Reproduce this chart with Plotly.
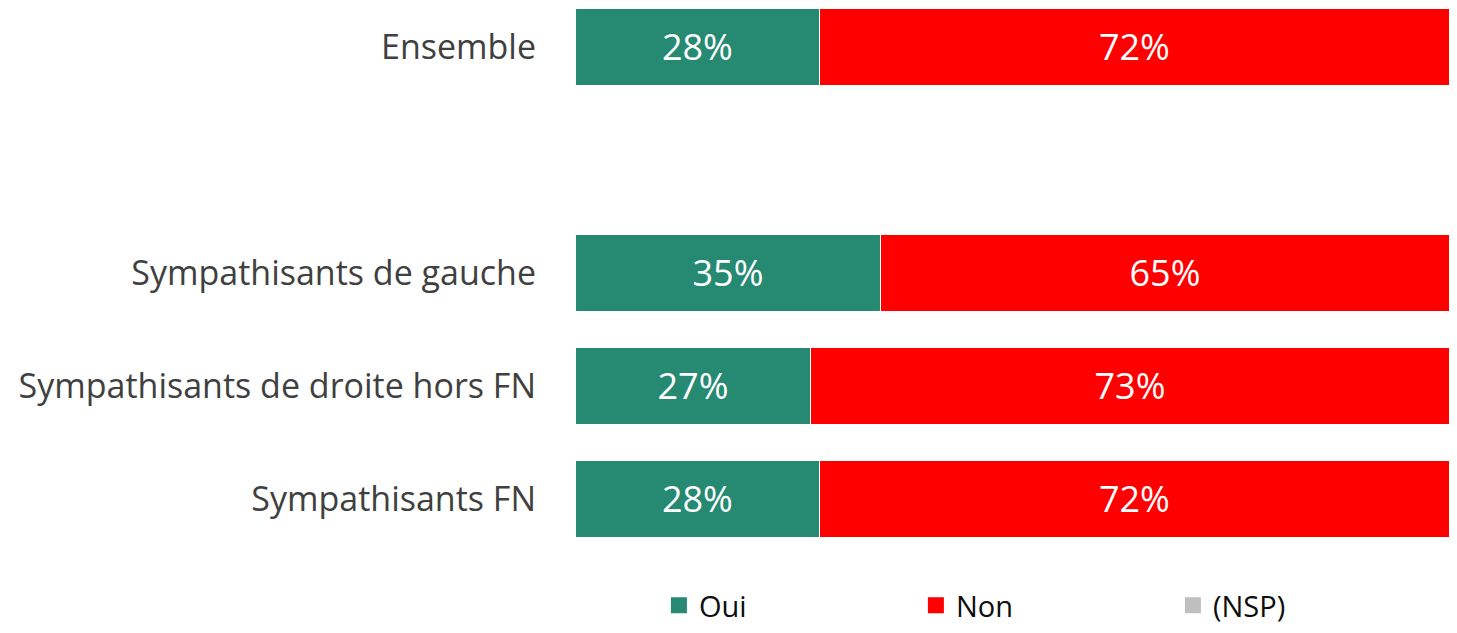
import plotly.graph_objects as go

categories = ["Ensemble", "", "Sympathisants de gauche", "Sympathisants de droite hors FN", "Sympathisants FN"]
oui = [28, None, 35, 27, 28]
non = [72, None, 65, 73, 72]
nsp = [0, None, 0, 0, 0]
series_names = ["Oui", "Non", "(NSP)"]
series_colors = ["#268A72", "#FF0000", "#BFBFBF"]

pos = list(range(len(categories)))
font_family = "'Open Sans', sans-serif"

def labels(vals):
    return [f"{v}%" if v else "" for v in vals]

fig = go.Figure()
for name, vals, col in zip(series_names, [oui, non, nsp], series_colors):
    fig.add_trace(go.Bar(
        y=pos, x=vals, name=name, orientation="h", showlegend=False,
        marker=dict(color=col, line=dict(color="white", width=1)),
        text=labels(vals), textposition="inside", insidetextanchor="middle",
        textfont=dict(color="white", size=36, family=font_family),
        width=0.69, hoverinfo="skip",
    ))
# legend entries with larger square swatches
for name, col in zip(series_names, series_colors):
    fig.add_trace(go.Scatter(
        x=[None], y=[None], mode="markers", name=name,
        marker=dict(symbol="square", size=20, color=col), showlegend=True,
    ))

fig.update_layout(
    barmode="stack",
    width=1441, height=617,
    margin=dict(l=567, r=0, t=0, b=65, autoexpand=False),
    plot_bgcolor="white", paper_bgcolor="white",
    font=dict(family=font_family, color="#404040"),
    xaxis=dict(range=[0, 100], visible=False, automargin=False),
    yaxis=dict(range=[4.54, -0.345], tickmode="array", tickvals=pos, ticktext=categories,
               tickfont=dict(size=34, color="#404040"), showgrid=False, zeroline=False,
               showline=False, ticks="", ticklabelstandoff=38, automargin=False),
    showlegend=True,
    legend=dict(orientation="h", x=0.096, xanchor="left", y=-0.036, yanchor="top",
                font=dict(size=29, color="#0D0D0D"), entrywidth=212, itemwidth=30,
                itemsizing="trace", traceorder="normal", tracegroupgap=0),
)

fig.write_html("out.html")
